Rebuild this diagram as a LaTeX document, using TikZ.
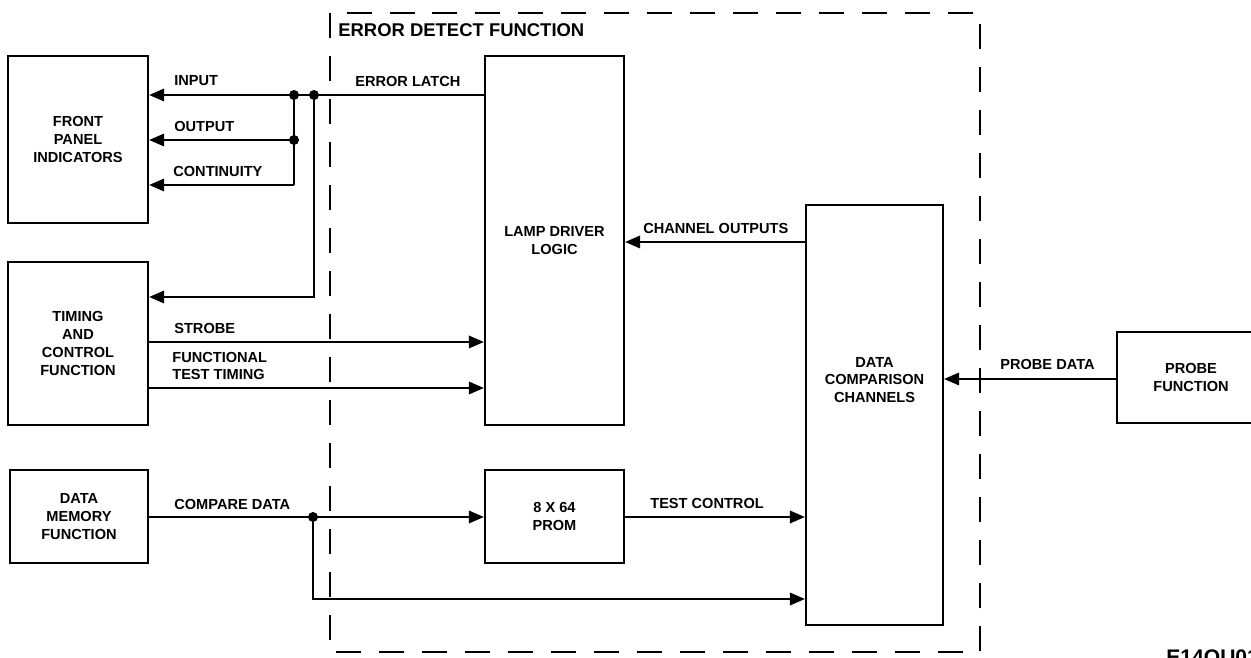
\documentclass[tikz,border=0pt]{standalone}
\usepackage{fontspec}
\setmainfont{Liberation Sans}
\usetikzlibrary{arrows.meta}

\begin{document}
\begin{tikzpicture}[x=0.02cm, y=-0.02cm,
    blk/.style={draw, line width=1.3pt, align=center, inner sep=0pt,
        font=\fontsize{8.3}{10.2}\selectfont\bfseries},
    sig/.style={line width=1.1pt},
    arr/.style={sig, -{Triangle[length=0.3cm, width=0.25cm]}},
    lbl/.style={anchor=west, inner sep=0pt, align=left,
        font=\fontsize{8.3}{10.2}\selectfont\bfseries},
    dot/.style={circle, fill, inner sep=0pt, minimum size=0.2cm}]

    \useasboundingbox (0,0) rectangle (1251,658);

    % Error detect function frame
    \draw[line width=1.1pt, dash pattern=on 0.5cm off 0.36cm] (330,13) rectangle (980,652);
    \node[lbl, font=\fontsize{10.5}{12}\selectfont\bfseries] (edf) at (338,30) {ERROR DETECT FUNCTION};

    % Blocks
    \node[blk, minimum width=2.8cm, minimum height=3.34cm] (front) at (78,139.5) {FRONT\\PANEL\\INDICATORS};
    \node[blk, minimum width=2.8cm, minimum height=3.26cm] (timing) at (78,343.5) {TIMING\\AND\\CONTROL\\FUNCTION};
    \node[blk, minimum width=2.76cm, minimum height=1.86cm] (memory) at (79,516.5) {DATA\\MEMORY\\FUNCTION};
    \node[blk, minimum width=2.78cm, minimum height=7.38cm] (lamp) at (554.5,240.5) {LAMP DRIVER\\LOGIC};
    \node[blk, minimum width=2.78cm, minimum height=1.86cm] (prom) at (554.5,516.5) {8 X 64\\PROM};
    \node[blk, minimum width=2.74cm, minimum height=8.4cm] (dcc) at (874.5,415) {};
    \node[lbl, anchor=center, align=center] (dcctxt) at (874.5,380) {DATA\\COMPARISON\\CHANNELS};
    \node[blk, minimum width=2.96cm, minimum height=1.82cm] (probe) at (1191,377.5) {PROBE\\FUNCTION};

    % Junctions
    \coordinate (j1) at (294,95);
    \coordinate (j2) at (314,95);
    \coordinate (jo) at (294,140);
    \coordinate (jn) at (294,185);
    \coordinate (jt) at (314,297);
    \coordinate (jc) at (313,517);
    \coordinate (jb) at (313,599);

    % Error latch to panel and timing
    \draw[arr] (lamp.west |- j1) -- (front.east |- j1);
    \draw[sig] (j1) -- (jn);
    \draw[arr] (jo) -- (front.east |- jo);
    \draw[arr] (jn) -- (front.east |- jn);
    \draw[arr] (j2) -- (jt) -- (timing.east |- jt);
    \node[dot] (d1) at (j1) {};
    \node[dot] (d2) at (j2) {};
    \node[dot] (d3) at (jo) {};

    % Timing to lamp driver
    \draw[arr] (timing.east |- 0,342) -- (lamp.west |- 0,342);
    \draw[arr] (timing.east |- 0,388) -- (lamp.west |- 0,388);

    % Compare data
    \draw[sig] (memory.east |- jc) -- (jc);
    \draw[arr] (jc) -- (prom.west |- jc);
    \draw[arr] (jc) -- (jb) -- (dcc.west |- jb);
    \node[dot] (d4) at (jc) {};

    % Comparison channels
    \draw[arr] (prom.east |- 0,517) -- (dcc.west |- 0,517);
    \draw[arr] (dcc.west |- 0,242) -- (lamp.east |- 0,242);
    \draw[arr] (probe.west |- 0,379) -- (dcc.east |- 0,379);

    % Signal labels
    \node[lbl] (linput) at (174,81) {INPUT};
    \node[lbl] (loutput) at (174,126) {OUTPUT};
    \node[lbl] (lcont) at (173,171) {CONTINUITY};
    \node[lbl] (llatch) at (355,81) {ERROR LATCH};
    \node[lbl] (lstrobe) at (174,328) {STROBE};
    \node[lbl] (lftt) at (172,366) {FUNCTIONAL\\TEST TIMING};
    \node[lbl] (lcomp) at (174,504) {COMPARE DATA};
    \node[lbl] (ltest) at (650,503) {TEST CONTROL};
    \node[lbl] (lchan) at (643,228) {CHANNEL OUTPUTS};
    \node[lbl] (lprobe) at (1000,364) {PROBE DATA};

    \node[anchor=north west, inner sep=0pt, font=\fontsize{12}{14}\selectfont\bfseries] (figid) at (1166,649) {E14QU01};
\end{tikzpicture}
\end{document}
